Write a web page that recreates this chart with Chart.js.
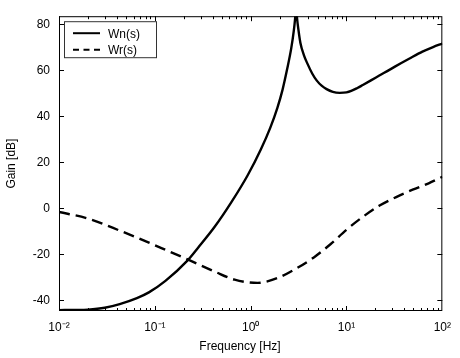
<!DOCTYPE html>
<html><head><meta charset="utf-8">
<script src="https://cdn.jsdelivr.net/npm/chart.js@4/dist/chart.umd.min.js"></script>
<style>html,body{margin:0;padding:0;background:#fff}#wrap{width:460px;height:358px}</style>
</head><body><div id="wrap"><canvas id="c" width="460" height="358"></canvas></div>
<script>
// ---- data ----
const wnFreq = [0.01, 0.015, 0.02, 0.03, 0.043, 0.065, 0.0867, 0.129, 0.22, 0.284, 0.423, 0.627, 0.931, 1.276, 1.6, 1.9, 2.15, 2.4, 2.65, 2.82, 2.91, 2.98, 3.05, 3.16, 3.3, 3.6, 3.9, 4.4, 4.9, 5.5, 6.2, 7.2, 8.5, 10, 11.2, 13, 14.8, 18, 22, 32, 45, 62, 80, 100];
const wnGain = [-44.2, -44.15, -44.0, -43.2, -41.6, -39.0, -36.5, -31.5, -22.6, -17.0, -7.9, 2.6, 14.4, 25.6, 35, 43.7, 51.5, 60.4, 69.5, 77.2, 82.5, 88, 82.5, 77.2, 72, 66.5, 63, 58.5, 55.5, 53.3, 51.8, 50.6, 50.2, 50.4, 51.0, 52.3, 53.6, 55.6, 57.7, 61.6, 65.0, 68.1, 70.1, 71.6];
const wrFreq = [0.01, 0.02, 0.045, 0.0867, 0.139, 0.22, 0.423, 0.68, 1.18, 1.9, 3.0, 4.6, 6.8, 10, 14.8, 21.9, 33, 49, 72, 100];
const wrGain = [-1.6, -4.4, -10.0, -14.9, -18.6, -22.2, -27.5, -31.0, -32.4, -30.3, -26.1, -21.2, -15.6, -9.3, -3.7, 1.1, 4.9, 8.1, 10.9, 13.7];
const seriesNames = ['Wn(s)', 'Wr(s)'];
const xTickValues = [0.01, 0.1, 1, 10, 100];
const xTickLabels = ['10⁻²', '10⁻¹', '10⁰', '10¹', '10²'];
const yTickValues = [-40, -20, 0, 20, 40, 60, 80];
const xTitle = 'Frequency [Hz]';
const yTitle = 'Gain [dB]';

const FONT = "'Liberation Sans', Arial, Helvetica, sans-serif";

const framePlugin = {
  id: 'frame',
  afterDatasetsDraw(chart) {
    const ctx = chart.ctx;
    const a = chart.chartArea;
    const xs = chart.scales.x, ys = chart.scales.y;
    ctx.save();
    ctx.strokeStyle = '#000';
    ctx.lineWidth = 1;
    ctx.setLineDash([]);
    ctx.strokeRect(a.left + 0.5, a.top + 0.5, a.right - a.left - 1, a.bottom - a.top - 1);
    ctx.beginPath();
    // x ticks (major + minor), inward, top and bottom
    for (let d = -2; d < 2; d++) {
      for (let m = 1; m <= 9; m++) {
        const v = m * Math.pow(10, d);
        const px = Math.round(xs.getPixelForValue(v)) + 0.5;
        const len = m === 1 ? 5 : 3;
        ctx.moveTo(px, a.bottom); ctx.lineTo(px, a.bottom - len);
        ctx.moveTo(px, a.top); ctx.lineTo(px, a.top + len);
      }
    }
    // y ticks, inward, left and right
    yTickValues.forEach(v => {
      const py = Math.round(ys.getPixelForValue(v)) + 0.5;
      ctx.moveTo(a.left, py); ctx.lineTo(a.left + 5, py);
      ctx.moveTo(a.right, py); ctx.lineTo(a.right - 5, py);
    });
    ctx.stroke();

    // legend box
    const lx = a.left + 5, ly = a.top + 5, lw = 92, lh = 36;
    ctx.fillStyle = '#fff';
    ctx.fillRect(lx, ly, lw, lh);
    ctx.strokeStyle = '#333';
    ctx.strokeRect(lx + 0.5, ly + 0.5, lw, lh);
    chart.data.datasets.forEach((ds, i) => {
      const yy = ly + 12 + i * 16.5;
      ctx.strokeStyle = '#000';
      ctx.lineWidth = 2;
      ctx.setLineDash(i === 0 ? [] : [6, 4.5]);
      ctx.beginPath();
      ctx.moveTo(lx + 9, yy); ctx.lineTo(lx + 36, yy);
      ctx.stroke();
      ctx.setLineDash([]);
      ctx.fillStyle = '#000';
      ctx.font = '12px ' + FONT;
      ctx.textAlign = 'left';
      ctx.textBaseline = 'middle';
      ctx.fillText(ds.label, lx + 44, yy + 1);
    });

    // x axis title
    ctx.font = '12px ' + FONT;
    ctx.textAlign = 'center';
    ctx.textBaseline = 'middle';
    ctx.fillStyle = '#000';
    ctx.fillText(xTitle, 240, 347);
    ctx.restore();
  }
};

new Chart(document.getElementById('c'), {
  type: 'line',
  data: {
    datasets: [
      {
        label: seriesNames[0],
        data: wnFreq.map((f, i) => ({ x: f, y: wnGain[i] })),
        borderColor: '#000', borderWidth: 2.4, pointRadius: 0,
        cubicInterpolationMode: 'monotone', fill: false
      },
      {
        label: seriesNames[1],
        data: wrFreq.map((f, i) => ({ x: f, y: wrGain[i] })),
        borderColor: '#000', borderWidth: 2.4, borderDash: [11, 6], pointRadius: 0,
        cubicInterpolationMode: 'monotone', fill: false
      }
    ]
  },
  options: {
    responsive: false,
    animation: false,
    devicePixelRatio: 1,
    layout: { padding: { left: 0, top: 5, right: 13, bottom: 0 } },
    plugins: { legend: { display: false }, tooltip: { enabled: false } },
    scales: {
      x: {
        type: 'logarithmic', min: 0.01, max: 100,
        grid: { display: false, drawTicks: false },
        border: { display: false },
        afterBuildTicks: s => { s.ticks = xTickValues.map(v => ({ value: v })); },
        afterFit: s => { s.height = 47; },
        ticks: {
          autoSkip: false, maxRotation: 0, minRotation: 0, padding: 9,
          color: '#000', font: { family: FONT, size: 12 },
          callback: v => xTickLabels[xTickValues.indexOf(v)]
        },
        title: { display: false }
      },
      y: {
        type: 'linear', min: -44.6, max: 83.5,
        grid: { display: false, drawTicks: false },
        border: { display: false },
        afterBuildTicks: s => { s.ticks = yTickValues.map(v => ({ value: v })); },
        afterFit: s => { s.width = 59; },
        ticks: { padding: 9, color: '#000', font: { family: FONT, size: 12 } },
        title: { display: true, text: yTitle, color: '#000', font: { family: FONT, size: 12 }, padding: { top: 4, bottom: 0 } }
      }
    }
  },
  plugins: [framePlugin]
});
</script>
</body></html>
